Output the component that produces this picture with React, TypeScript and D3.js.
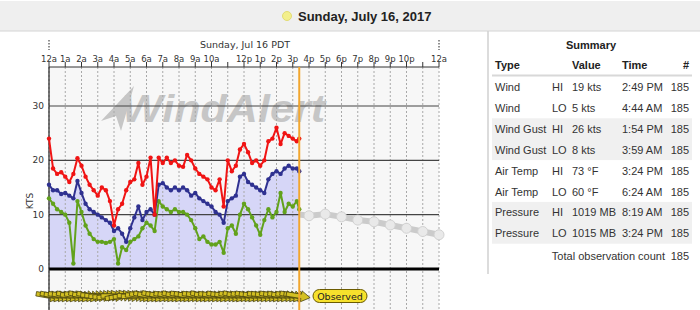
import React from "react";
import * as d3 from "d3";

// ---------- DATA ----------
const obsMinutes = [
  0, 15, 30, 45, 60, 75, 90, 105, 120, 135,
  150, 165, 180, 195, 210, 225, 240, 255, 270, 285,
  300, 315, 330, 345, 360, 375, 390, 405, 420, 435,
  450, 465, 480, 495, 510, 525, 540, 555, 570, 585,
  600, 615, 630, 645, 660, 675, 690, 705, 720, 735,
  750, 765, 780, 795, 810, 825, 840, 855, 870, 885,
  900, 915, 924,
];
const gustKts = [
  24, 18.5, 17.5, 17.8, 17, 16, 17.5, 20.4, 19, 17,
  15.5, 14.5, 13.5, 15, 14.5, 12.5, 8, 11, 12, 14.5,
  16, 16.5, 19.5, 15.5, 17, 20.5, 10, 20.5, 19.5, 20.5,
  19.5, 20, 19, 18.8, 21, 20, 18.5, 17.5, 17, 16.5,
  15, 14.5, 16.5, 11.5, 20, 18, 19, 22, 23, 21.5,
  19.5, 20, 19, 20, 23.5, 24, 26, 23, 25, 24.5,
  24, 23.5, 24,
];
const windKts = [
  15.5, 14.5, 14.5, 13.8, 14, 13.5, 13, 16.2, 14, 12,
  11, 10.5, 10, 9.5, 9, 8.5, 7, 7.5, 6.5, 5,
  7.5, 9.5, 11.5, 9, 10.5, 11, 10, 15.5, 15.8, 15,
  14.5, 15, 14.5, 15, 14.5, 13.5, 14, 13, 12.5, 12,
  11.5, 10.5, 10, 8.5, 12.5, 13, 13.5, 17, 17.5, 16,
  15.5, 15, 14.5, 14, 16.5, 17.5, 18, 17.5, 18.5, 19,
  18.5, 18.5, 18,
];
const lullKts = [
  13, 12, 11, 10.5, 10, 8.5, 1, 12.5, 10.5, 8,
  6.5, 5.5, 5, 5, 4.8, 5, 5.5, 1, 4, 3.5,
  5, 5.5, 6, 7.5, 8.5, 8, 7, 12.5, 11.5, 11,
  10.5, 11, 10.5, 10.5, 10, 9, 7.5, 5.5, 6, 5,
  4.5, 4.5, 5, 3, 7.5, 8, 6.5, 10, 12, 11,
  9.5, 8, 6.3, 9, 11, 9.5, 10.5, 14, 10.5, 12,
  11.5, 12.5, 11,
];
const windDirDeg = [
  280, 282, 278, 281, 279, 283, 276, 280, 284, 278,
  282, 275, 272, 268, 265, 262, 270, 258, 262, 266,
  272, 268, 275, 280, 283, 279, 285, 281, 278, 282,
  280, 284, 279, 283, 281, 277, 282, 280, 284, 278,
  281, 279, 283, 280, 278, 282, 284, 279, 281, 283,
  280, 278, 282, 281, 279, 283, 280, 282, 278, 281,
  283, 280, 279,
];
const forecastHours = [15, 16, 17, 18, 19, 20, 21, 22, 23, 24];
const forecastKts = [10.2, 9.8, 10.1, 9.6, 9.0, 8.7, 8.1, 7.5, 6.9, 6.3];
const hourLabels = [
  "12a", "1a", "2a", "3a", "4a", "5a", "6a", "7a", "8a", "9a", "10a", "",
  "12p", "1p", "2p", "3p", "4p", "5p", "6p", "7p", "8p", "9p", "10p", "", "12a",
];
const yTicks = [0, 10, 20, 30];
const nowMinutes = 924;

const summaryTypes = ["Wind", "Wind", "Wind Gust", "Wind Gust", "Air Temp", "Air Temp", "Pressure", "Pressure"];
const summaryHiLo = ["HI", "LO", "HI", "LO", "HI", "LO", "HI", "LO"];
const summaryValues = ["19 kts", "5 kts", "26 kts", "8 kts", "73 °F", "60 °F", "1019 MB", "1015 MB"];
const summaryTimes = ["2:49 PM", "4:44 AM", "1:54 PM", "3:59 AM", "3:24 PM", "6:24 AM", "8:19 AM", "3:24 PM"];
const summaryCounts = [185, 185, 185, 185, 185, 185, 185, 185];
const totalCount = 185;

// ---------- LAYOUT ----------
const W = 700;
const H = 310;
const PL = 49;
const PR = 439;
const PT = 67;
const PB = 310;

const CHART_FONT = "'DejaVu Sans', Verdana, sans-serif";
const TABLE_FONT = "'Liberation Sans', Arial, sans-serif";

export default function App() {
  const x = d3.scaleLinear().domain([0, 1440]).range([PL, PR]);
  const y = d3.scaleLinear().domain([0, 30]).range([269, 106]);

  const idx = d3.range(obsMinutes.length);
  const lineGen = (vals: number[]) =>
    d3.line<number>().x((i) => x(obsMinutes[i])).y((i) => y(vals[i]))(idx) || "";
  const areaPath =
    d3.area<number>().x((i) => x(obsMinutes[i])).y0(y(0)).y1((i) => y(windKts[i]))(idx) || "";
  const fIdx = d3.range(forecastHours.length);
  const forecastPath =
    d3.line<number>().x((i) => x(forecastHours[i] * 60)).y((i) => y(forecastKts[i]))(fIdx) || "";

  const hours = d3.range(0, 25);
  const nowX = x(nowMinutes);
  const bandY = 296;

  const series = [
    { vals: lullKts, color: "#62a21c" },
    { vals: windKts, color: "#2f3190" },
    { vals: gustKts, color: "#f01414" },
  ];

  const rowY = (i: number) => 87 + 20.9 * i;

  return (
    <svg
      width={W}
      height={H}
      style={{ position: "absolute", left: 0, top: 0, background: "#fff" }}
    >
      <defs>
        <clipPath id="fcClip">
          <rect x={nowX} y={PT} width={PR - nowX + 6} height={PB - PT} />
        </clipPath>
      </defs>

      {/* header bar */}
      <rect x={0} y={1} width={W} height={30} fill="#efefef" />
      <line x1={0} x2={W} y1={31} y2={31} stroke="#d4d4d4" />
      <circle cx={287} cy={16} r={4.5} fill="#f3ef8c" stroke="#e2dc74" />
      <text x={298} y={16} dominantBaseline="central" fontFamily={TABLE_FONT} fontWeight="bold" fontSize={13} fill="#222">
        Sunday, July 16, 2017
      </text>

      {/* plot background */}
      <rect x={PL} y={PT} width={PR - PL} height={PB - PT} fill="#f7f7f7" />

      {/* watermark */}
      <g fill="#c6c6c6">
        <polygon points="134,86 101,121 116,116 121,131" />
        <text x={122} y={122} fontFamily={TABLE_FONT} fontWeight="bold" fontStyle="italic" fontSize={39} textLength={203} lengthAdjust="spacingAndGlyphs">
          WindAlert
        </text>
      </g>

      {/* fill under average wind */}
      <path d={areaPath} fill="#d6d6f7" />

      {/* vertical dotted gridlines */}
      {hours.map((h) => (
        <line key={"g" + h} x1={x(h * 60)} x2={x(h * 60)} y1={PT} y2={PB} stroke="#a8a8a8" strokeDasharray="2,2" />
      ))}

      {/* horizontal grid */}
      {yTicks.filter((v) => v > 0).map((v) => (
        <line key={"h" + v} x1={PL} x2={PR} y1={y(v)} y2={y(v)} stroke="#444" strokeWidth={1.2} />
      ))}
      <line x1={PL} x2={PR} y1={y(0)} y2={y(0)} stroke="#000" strokeWidth={3} />

      {/* y labels */}
      {yTicks.map((v) => (
        <text key={"yl" + v} x={44} y={y(v)} textAnchor="end" dominantBaseline="central" fontFamily={CHART_FONT} fontSize={9} fill="#333">
          {v}
        </text>
      ))}
      <text transform={`translate(30,201) rotate(-90)`} textAnchor="middle" dominantBaseline="central" fontFamily={CHART_FONT} fontSize={9} fill="#333">
        KTS
      </text>

      {/* top axis */}
      <line x1={PL} x2={PR} y1={PT} y2={PT} stroke="#333" />
      <line x1={PL} x2={PL} y1={PT} y2={PB} stroke="#222" strokeWidth={1.2} />
      {hours.map((h) => (
        <line key={"t" + h} x1={x(h * 60)} x2={x(h * 60)} y1={PT - 5} y2={PT} stroke="#333" />
      ))}
      {hours.map((h) =>
        hourLabels[h] ? (
          <text key={"tl" + h} x={x(h * 60)} y={59} textAnchor="middle" dominantBaseline="central" fontFamily={CHART_FONT} fontSize={8.5} fill="#333">
            {hourLabels[h]}
          </text>
        ) : null
      )}
      <text x={245} y={44} textAnchor="middle" dominantBaseline="central" fontFamily={CHART_FONT} fontSize={9.5} fill="#333">
        Sunday, Jul 16 PDT
      </text>
      {[0, 1440].map((m) => (
        <line key={"d" + m} x1={x(m)} x2={x(m)} y1={40} y2={50} stroke="#222" strokeDasharray="1.5,1.5" />
      ))}

      {/* forecast */}
      <g clipPath="url(#fcClip)">
        <path d={forecastPath} fill="none" stroke="#cbcbcb" strokeWidth={6} strokeLinejoin="round" />
        {fIdx.map((i) => (
          <circle key={"fc" + i} cx={x(forecastHours[i] * 60)} cy={y(forecastKts[i])} r={5} fill="#e9e9e9" stroke="#d2d2d2" strokeWidth={1} />
        ))}
      </g>

      {/* observed series */}
      {series.map((s, si) => (
        <g key={"s" + si}>
          <path d={lineGen(s.vals)} fill="none" stroke={s.color} strokeWidth={2} strokeLinejoin="round" />
          {idx.map((i) => (
            <circle key={i} cx={x(obsMinutes[i])} cy={y(s.vals[i])} r={2.2} fill={s.color} />
          ))}
        </g>
      ))}

      {/* wind direction band */}
      <g>
        {idx.map((i) => (
          <polygon
            key={"a" + i}
            points="0,-2.2 15,-2.2 15,-5.5 24,0 15,5.5 15,2.2 0,2.2"
            transform={`translate(${x(obsMinutes[i])},${bandY}) rotate(${windDirDeg[i] + 90}) translate(-13,0)`}
            fill="#d3c022"
            stroke="#3f3a0c"
            strokeWidth={0.7}
          />
        ))}
      </g>

      {/* now line */}
      <line x1={nowX} x2={nowX} y1={PT} y2={PB} stroke="#f2a62e" strokeWidth={2} />

      {/* observed label */}
      <rect x={313} y={289.5} width={54} height={13} rx={6.5} fill="#f6e12c" stroke="#6b5b00" strokeWidth={1} />
      <text x={340} y={296.5} textAnchor="middle" dominantBaseline="central" fontFamily={CHART_FONT} fontSize={9.5} fill="#222">
        Observed
      </text>

      {/* summary panel */}
      <line x1={488} x2={488} y1={31} y2={274} stroke="#d0d0d0" strokeWidth={1.5} />
      <text x={591} y={45} textAnchor="middle" dominantBaseline="central" fontFamily={TABLE_FONT} fontWeight="bold" fontSize={11} fill="#222">
        Summary
      </text>
      <g fontFamily={TABLE_FONT} fontWeight="bold" fontSize={11} fill="#222">
        <text x={495} y={65} dominantBaseline="central">Type</text>
        <text x={572} y={65} dominantBaseline="central">Value</text>
        <text x={622} y={65} dominantBaseline="central">Time</text>
        <text x={689} y={65} textAnchor="end" dominantBaseline="central">#</text>
      </g>
      <line x1={492} x2={692} y1={75.5} y2={75.5} stroke="#d8d8d8" strokeWidth={2} />
      {[2, 6].map((r) => (
        <rect key={"sh" + r} x={492} y={rowY(r) - 10.5} width={200} height={41.8} fill="#f0f0f0" />
      ))}
      <g fontFamily={TABLE_FONT} fontSize={11} fill="#333">
        {summaryTypes.map((t, i) => (
          <g key={"r" + i}>
            <text x={495} y={rowY(i)} dominantBaseline="central">{t}</text>
            <text x={552} y={rowY(i)} dominantBaseline="central">{summaryHiLo[i]}</text>
            <text x={572} y={rowY(i)} dominantBaseline="central">{summaryValues[i]}</text>
            <text x={622} y={rowY(i)} dominantBaseline="central">{summaryTimes[i]}</text>
            <text x={689} y={rowY(i)} textAnchor="end" dominantBaseline="central">{summaryCounts[i]}</text>
          </g>
        ))}
        <text x={665} y={256} textAnchor="end" dominantBaseline="central">Total observation count</text>
        <text x={689} y={256} textAnchor="end" dominantBaseline="central">{totalCount}</text>
      </g>
    </svg>
  );
}
